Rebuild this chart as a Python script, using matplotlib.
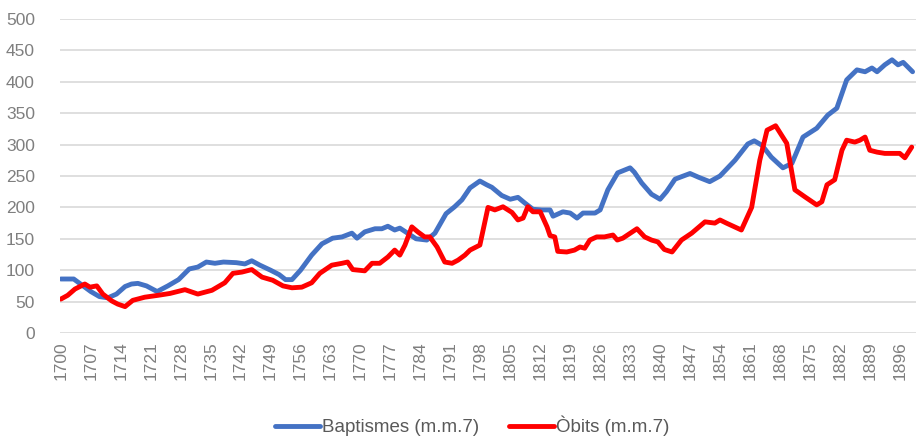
import numpy as np
import matplotlib
matplotlib.use("Agg")
import matplotlib.pyplot as plt

plt.rcParams['font.family'] = ['Liberation Sans', 'DejaVu Sans']

# Baptismes, mitjana mobil de 7 anys (llegit del gràfic)
bapt_years = [1700, 1703, 1705, 1707, 1709, 1711, 1713, 1715, 1716.5, 1718, 1720, 1722.5,
              1725, 1727.5, 1730, 1732, 1734, 1736, 1738, 1741, 1743, 1744.6, 1746.5, 1749,
              1751, 1752.5, 1754, 1756, 1758.6, 1761, 1763.5, 1765.7, 1768, 1769.2, 1771,
              1773.4, 1775, 1776.4, 1778, 1779.2, 1781, 1783, 1785.5, 1787.4, 1790, 1792,
              1793.7, 1795.6, 1797.9, 1799.5, 1800.7, 1803, 1805, 1806.8, 1808.4, 1810.3,
              1812.4, 1814.3, 1815, 1817.3, 1819, 1820.6, 1822, 1824.8, 1826, 1827.8, 1830.1,
              1833, 1834, 1835.7, 1838, 1840, 1841.5, 1843.5, 1847, 1849, 1851.6, 1854,
              1857.5, 1860.5, 1862, 1863.8, 1866, 1868.7, 1870.8, 1873.4, 1876.6, 1879.2,
              1881.3, 1883.6, 1886, 1887.9, 1889.5, 1890.7, 1892.5, 1894.2, 1895.6, 1896.8, 1899]
bapt_vals = [86, 86, 76, 66, 58, 56, 62, 74, 78, 79, 75, 66,
             75, 85, 102, 105, 113, 111, 113, 112, 110, 115, 108, 100,
             93, 85, 85, 100, 124, 142, 151, 153, 159, 151, 161,
             166, 166, 170, 164, 167, 159, 150, 148, 159, 190, 201,
             212, 231, 242, 236, 232, 219, 213, 216, 207, 197,
             196, 196, 186, 193, 191, 183, 191, 191, 196, 228, 255,
             263, 256, 239, 221, 213, 225, 245, 254, 248, 241, 250,
             275, 301, 306, 299, 280, 263, 270, 312, 326, 347,
             358, 403, 419, 416, 422, 416, 427, 435, 427, 431, 416]

# Òbits, mitjana mobil de 7 anys
obits_years = [1700, 1701.6, 1703.3, 1705.6, 1706.8, 1708.4, 1709.8, 1711.9, 1713.3, 1715,
               1716.8, 1719.6, 1722.7, 1725.5, 1729, 1732, 1735.3, 1738.3, 1740.2, 1742.3,
               1744.6, 1747, 1749.5, 1751.9, 1754, 1756.3, 1758.6, 1760.5, 1763.3, 1765.7,
               1767, 1768.2, 1771, 1772.7, 1774.5, 1776.4, 1778, 1779.2, 1780.4, 1782,
               1783.4, 1785, 1786.2, 1787.9, 1789.7, 1791.4, 1792.8, 1794.4, 1795.6, 1797.9,
               1799.8, 1801.4, 1803.3, 1805.4, 1806.8, 1808, 1809.1, 1810.3, 1812, 1813.6,
               1814.3, 1815.4, 1816.1, 1818.2, 1820, 1821.3, 1822.4, 1823.6, 1825.2, 1827,
               1829, 1830, 1831.3, 1834.6, 1836.4, 1838, 1839.5, 1841, 1842.8, 1845,
               1847.4, 1850.5, 1852.8, 1854, 1855.5, 1859, 1861.4, 1863.3, 1865, 1867,
               1869.6, 1871.5, 1873.8, 1876.6, 1877.8, 1879, 1880.8, 1882.5, 1883.6, 1885.5,
               1886.7, 1887.9, 1889, 1890.7, 1892.5, 1894.2, 1896, 1897.2, 1898.8]
obits_vals = [54, 60, 70, 78, 73, 75, 62, 51, 46, 42,
              52, 57, 60, 63, 69, 62, 68, 80, 95, 97,
              101, 89, 84, 75, 72, 73, 80, 95, 108, 111,
              113, 101, 99, 111, 111, 121, 132, 124, 140, 169,
              161, 153, 153, 137, 113, 111, 116, 124, 132, 140,
              200, 196, 201, 192, 180, 183, 201, 193, 193, 169,
              155, 153, 130, 129, 132, 137, 135, 148, 153, 153,
              156, 148, 151, 166, 153, 148, 145, 133, 129, 148,
              159, 177, 175, 180, 175, 164, 200, 275, 323, 330,
              302, 228, 217, 204, 209, 236, 244, 291, 307, 304,
              307, 312, 291, 288, 286, 286, 286, 279, 296]

tick_years = list(range(1700, 1900, 7))
y_ticks = list(range(0, 501, 50))

fig = plt.figure(figsize=(9.16, 4.38), dpi=100)
ax = fig.add_axes([60/916, 1 - 333/438, 1 - 60/916, 314/438])

ax.plot(bapt_years, bapt_vals, color='#4472C4', lw=3.5, label='Baptismes (m.m.7)',
        solid_joinstyle='round', solid_capstyle='round')
ax.plot(obits_years, obits_vals, color='#FF0000', lw=3.5, label='Òbits (m.m.7)',
        solid_joinstyle='round', solid_capstyle='round')

ax.set_xlim(1699.8, 1899.8)
ax.set_ylim(0, 500)
ax.set_yticks(y_ticks)
ax.set_xticks(tick_years)
ax.set_xticklabels([str(y) for y in tick_years], rotation=90)
ax.grid(axis='y', color='#D9D9D9', lw=1.2)
ax.set_axisbelow(True)
for s in ax.spines.values():
    s.set_visible(False)
ax.tick_params(axis='both', length=0, colors='#7F7F7F', labelsize=12.5)
ax.tick_params(axis='y', pad=18)
ax.tick_params(axis='x', pad=6)

leg = fig.legend(loc='center', bbox_to_anchor=(472/916, 1 - 426/438), ncol=2, frameon=False,
                 fontsize=13.5, handlelength=2.4, columnspacing=1.6, handletextpad=0.12)
for t in leg.get_texts():
    t.set_color('#595959')

fig.savefig('out.png', dpi=100)
